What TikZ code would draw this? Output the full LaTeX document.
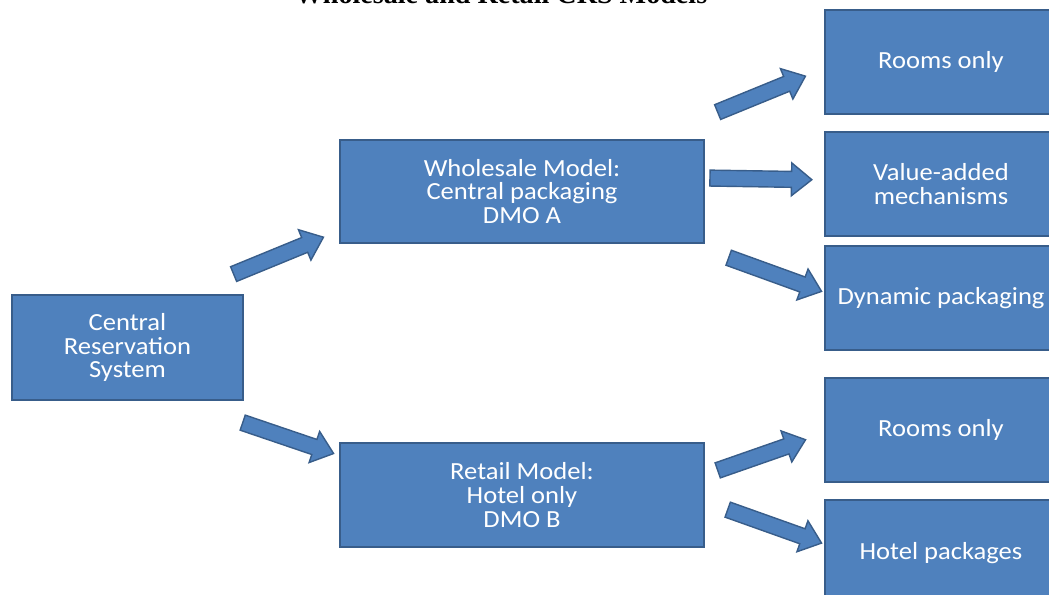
\documentclass[tikz,border=0pt]{standalone}
\usepackage{fontspec}
\setmainfont{Carlito}[FakeStretch=1.08]
\newfontfamily\titlefont{Liberation Serif}
\usetikzlibrary{shapes.arrows,positioning,calc}
\definecolor{mblue}{RGB}{79,129,189}
\definecolor{dblue}{RGB}{56,93,138}
\tikzset{
    block/.style={
        rectangle,
        minimum width=4.64cm, minimum height=2.08cm,
        align=center, text=white,
        font=\fontsize{14}{13.6}\selectfont,
        draw=dblue, line width=1.2pt, fill=mblue
    },
    fatarrow/.style={
        single arrow, draw=dblue, fill=mblue, line width=0.8pt,
        inner sep=0.145cm, single arrow head extend=0.17cm,
        single arrow tip angle=78, anchor=center
    }
}
% block arrow from one named point to another
\newcommand{\fatlink}[2]{%
    \path let \p1=(#1), \p2=(#2),
        \n1={atan2(\y2-\y1,\x2-\x1)}, \n2={veclen(\x2-\x1,\y2-\y1)} in
        node[fatarrow, minimum height=\n2, rotate=\n1] at ($(#1)!0.5!(#2)$) {};}

\begin{document}
\begin{tikzpicture}
    \useasboundingbox (0,0) rectangle (20.98,11.88);
    \node[font=\titlefont\bfseries\fontsize{16}{18}\selectfont, anchor=base] (title) at (10.02,11.82) {Wholesale and Retail CRS Models};

    % left and middle column
    \node[block, minimum width=4.62cm, minimum height=2.1cm] (crs) at (2.55,4.93) {Central\\Reservation\\System};
    \node[block, minimum width=7.28cm, minimum height=2.06cm] (whole) at (10.44,8.05) {Wholesale Model:\\Central packaging\\DMO A};
    \node[block, minimum width=7.28cm] (retail) at (10.44,1.98) {Retail Model:\\Hotel only\\DMO B};

    % right column
    \node[block] (rooms1) at (18.82,10.64) {Rooms only};
    \node[block, below=0.32cm of rooms1] (value) {Value-added\\mechanisms};
    \node[block, below=0.16cm of value] (dynamic) {Dynamic packaging};
    \node[block, below=0.52cm of dynamic] (rooms2) {Rooms only};
    \node[block, below=0.32cm of rooms2, minimum height=2.12cm] (hotelpkg) {Hotel packages};

    % arrow ends
    \coordinate (a1s) at ([shift={(-0.3,0.36)}]crs.north east);
    \coordinate (a1e) at ([shift={(-0.4,0.1)}]whole.south west);
    \coordinate (a2s) at ([shift={(-0.12,-0.4)}]crs.south east);
    \coordinate (a2e) at ([shift={(-0.2,-0.2)}]retail.north west);
    \coordinate (a3s) at ([shift={(0.16,0.5)}]whole.north east);
    \coordinate (a3e) at ([shift={(-0.46,-0.32)}]rooms1.west);
    \coordinate (a4s) at ([shift={(0,0.27)}]whole.east);
    \coordinate (a4e) at ([shift={(-0.34,0.09)}]value.west);
    \coordinate (a5s) at ([shift={(0.38,-0.24)}]whole.south east);
    \coordinate (a5e) at ([shift={(-0.14,0.17)}]dynamic.west);
    \coordinate (a6s) at ([shift={(0.16,0.46)}]retail.east);
    \coordinate (a6e) at ([shift={(-0.46,-0.22)}]rooms2.west);
    \coordinate (a7s) at ([shift={(0.36,-0.26)}]retail.east);
    \coordinate (a7e) at ([shift={(-0.14,0.24)}]hotelpkg.west);

    \fatlink{a1s}{a1e}
    \fatlink{a2s}{a2e}
    \fatlink{a3s}{a3e}
    \fatlink{a4s}{a4e}
    \fatlink{a5s}{a5e}
    \fatlink{a6s}{a6e}
    \fatlink{a7s}{a7e}
\end{tikzpicture}
\end{document}
